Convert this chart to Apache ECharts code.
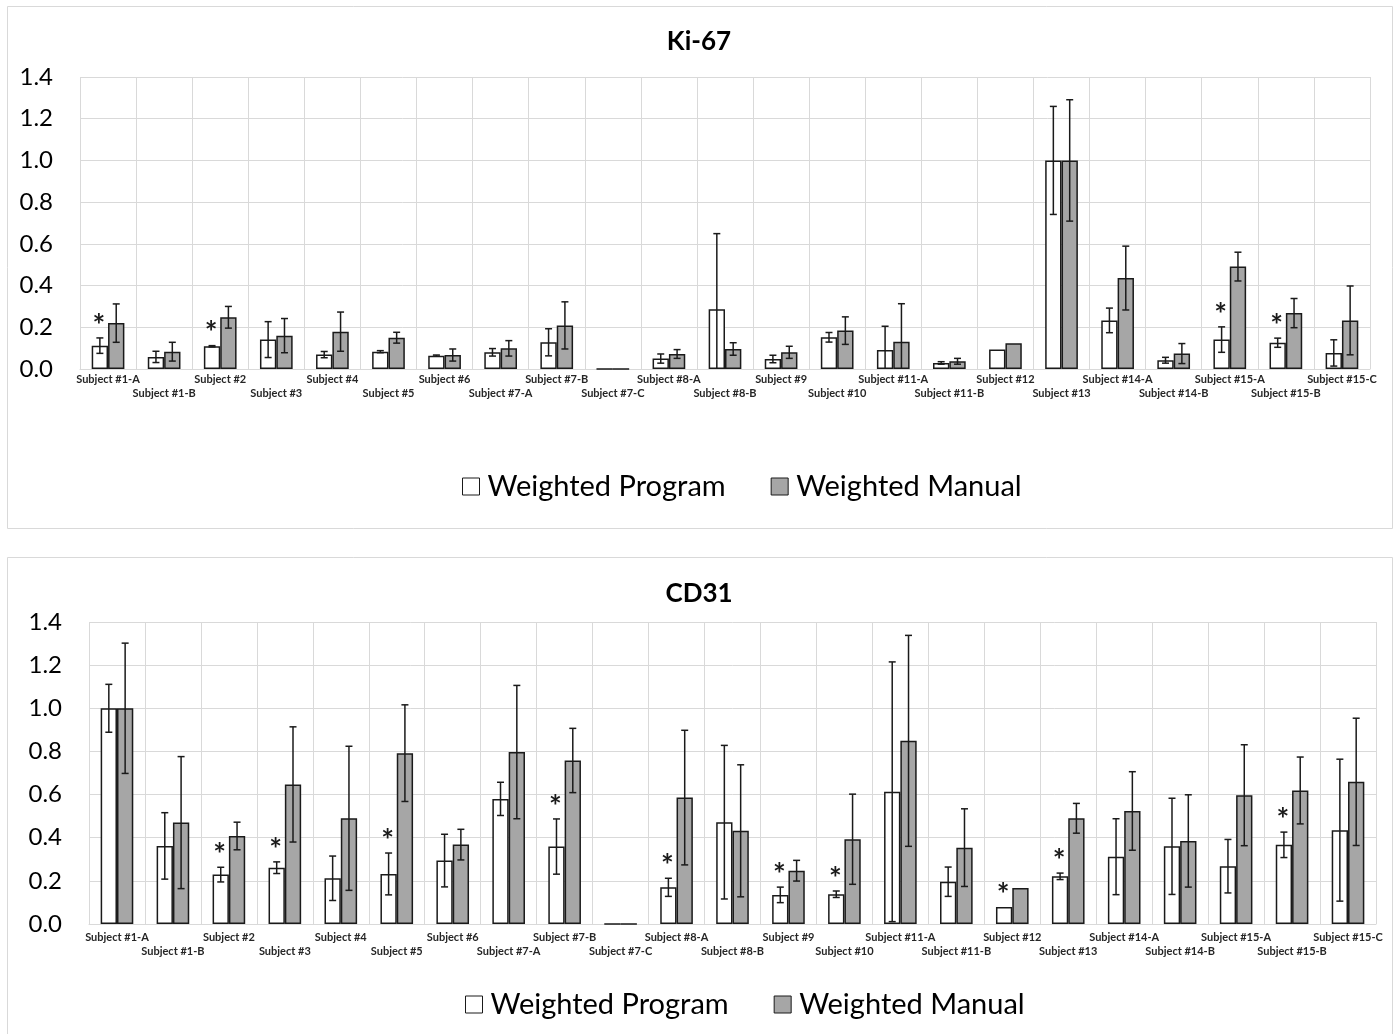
<!DOCTYPE html>
<html>
<head>
<meta charset="utf-8">
<script src="https://cdn.jsdelivr.net/npm/echarts@6/dist/echarts.min.js"></script>
<style>
  html, body { margin: 0; padding: 0; background: #ffffff; }
  #chart { width: 1398px; height: 1034px; }
</style>
</head>
<body>
<div id="chart"></div>
<script>
// ---------- DATA ----------
const categories = [
  'Subject #1-A', 'Subject #1-B', 'Subject #2', 'Subject #3', 'Subject #4', 'Subject #5',
  'Subject #6', 'Subject #7-A', 'Subject #7-B', 'Subject #7-C', 'Subject #8-A', 'Subject #8-B',
  'Subject #9', 'Subject #10', 'Subject #11-A', 'Subject #11-B', 'Subject #12', 'Subject #13',
  'Subject #14-A', 'Subject #14-B', 'Subject #15-A', 'Subject #15-B', 'Subject #15-C'
];
const seriesNames = ['Weighted Program', 'Weighted Manual'];
const yTickValues = [0, 0.2, 0.4, 0.6, 0.8, 1.0, 1.2, 1.4];

// Ki-67
const ki67Program    = [0.112, 0.058, 0.109, 0.141, 0.069, 0.083, 0.064, 0.080, 0.128, 0, 0.050, 0.286, 0.048, 0.152, 0.091, 0.029, 0.094, 1.000, 0.233, 0.042, 0.141, 0.126, 0.077];
const ki67ProgramErr = [0.037, 0.027, 0.003, 0.086, 0.015, 0.005, 0.003, 0.018, 0.065, 0, 0.022, 0.363, 0.018, 0.023, 0.114, 0.006, 0, 0.259, 0.059, 0.014, 0.061, 0.022, 0.063];
const ki67Manual     = [0.220, 0.083, 0.248, 0.160, 0.179, 0.150, 0.067, 0.099, 0.209, 0, 0.072, 0.096, 0.080, 0.184, 0.131, 0.037, 0.123, 1.000, 0.436, 0.074, 0.491, 0.268, 0.233];
const ki67ManualErr  = [0.092, 0.045, 0.052, 0.082, 0.094, 0.026, 0.029, 0.037, 0.113, 0, 0.021, 0.030, 0.029, 0.066, 0.182, 0.014, 0, 0.291, 0.153, 0.048, 0.069, 0.070, 0.165];
const ki67Significant = ['Subject #1-A', 'Subject #2', 'Subject #15-A', 'Subject #15-B'];

// CD31
const cd31Program    = [1.000, 0.362, 0.229, 0.261, 0.212, 0.232, 0.294, 0.580, 0.359, 0, 0.170, 0.472, 0.135, 0.138, 0.613, 0.196, 0.079, 0.221, 0.312, 0.360, 0.268, 0.367, 0.435];
const cd31ProgramErr = [0.111, 0.154, 0.034, 0.027, 0.103, 0.097, 0.122, 0.077, 0.128, 0, 0.042, 0.356, 0.036, 0.015, 0.602, 0.068, 0, 0.015, 0.176, 0.223, 0.124, 0.059, 0.329];
const cd31Manual     = [1.000, 0.470, 0.408, 0.647, 0.490, 0.792, 0.368, 0.797, 0.758, 0, 0.586, 0.432, 0.247, 0.393, 0.849, 0.354, 0.167, 0.490, 0.524, 0.385, 0.597, 0.619, 0.659];
const cd31ManualErr  = [0.302, 0.306, 0.064, 0.267, 0.334, 0.224, 0.071, 0.309, 0.149, 0, 0.312, 0.306, 0.048, 0.209, 0.489, 0.180, 0, 0.069, 0.182, 0.214, 0.234, 0.155, 0.295];
const cd31Significant = ['Subject #2', 'Subject #3', 'Subject #5', 'Subject #7-B', 'Subject #8-A', 'Subject #9', 'Subject #10', 'Subject #12', 'Subject #13', 'Subject #15-B'];

// ---------- STYLE ----------
const FONT = 'Lato, "Open Sans", sans-serif';
const GRID_COLOR = '#d9d9d9';
const EDGE = '#1a1a1a';
const FILLS = ['#ffffff', '#a6a6a6'];
const CAT_GAP = 0.417;

function errorSeries(gridIdx, side, values, errs) {
  return {
    type: 'custom',
    xAxisIndex: gridIdx, yAxisIndex: gridIdx,
    silent: true, z: 5,
    data: values.map((v, i) => [i, v, errs[i]]),
    renderItem: function (params, api) {
      const cat = api.value(0), val = api.value(1), err = api.value(2);
      if (!err) return;
      const band = api.size([1, 0])[0];
      const bw = band * (1 - CAT_GAP) / 2;
      const x = api.coord([cat, val])[0] + side * bw / 2;
      const yTop = api.coord([cat, val + err])[1];
      const lowVal = val - err;
      const yBot = api.coord([cat, Math.max(lowVal, 0)])[1];
      const cap = 3.5;
      const st = { stroke: EDGE, lineWidth: 1.5 };
      const children = [
        { type: 'line', shape: { x1: x, y1: yTop, x2: x, y2: yBot }, style: st },
        { type: 'line', shape: { x1: x - cap, y1: yTop, x2: x + cap, y2: yTop }, style: st }
      ];
      if (lowVal > 0) children.push({ type: 'line', shape: { x1: x - cap, y1: yBot, x2: x + cap, y2: yBot }, style: st });
      return { type: 'group', children: children };
    }
  };
}

function starSeries(gridIdx, sigList, values, errs) {
  const data = [];
  categories.forEach((c, i) => { if (sigList.indexOf(c) >= 0) data.push([i, values[i] + errs[i]]); });
  return {
    type: 'custom',
    xAxisIndex: gridIdx, yAxisIndex: gridIdx,
    silent: true, z: 6,
    data: data,
    renderItem: function (params, api) {
      const band = api.size([1, 0])[0];
      const bw = band * (1 - CAT_GAP) / 2;
      const p = api.coord([api.value(0), api.value(1)]);
      return {
        type: 'text',
        style: {
          text: '*', x: p[0] - bw / 2 - 1, y: p[1] - 12,
          font: 'bold 30px ' + FONT, fill: '#1a1a1a',
          textAlign: 'center', textVerticalAlign: 'middle'
        }
      };
    }
  };
}

function barSeries(gridIdx, k, values) {
  return {
    type: 'bar', name: seriesNames[k],
    xAxisIndex: gridIdx, yAxisIndex: gridIdx,
    data: values,
    barGap: '0%', barCategoryGap: (CAT_GAP * 100) + '%',
    itemStyle: { color: FILLS[k], borderColor: EDGE, borderWidth: 1.5 },
    emphasis: { disabled: true }
  };
}

function xAxis(gridIdx, margin) {
  return {
    type: 'category', gridIndex: gridIdx, data: categories,
    axisTick: { show: false },
    axisLine: { lineStyle: { color: GRID_COLOR, width: 1 } },
    splitLine: { show: true, interval: 0, lineStyle: { color: GRID_COLOR, width: 1 } },
    axisLabel: {
      interval: 0, margin: margin,
      fontFamily: FONT, fontSize: 11, fontWeight: 'bold', color: '#262626', lineHeight: 14,
      formatter: (v, i) => (i % 2 ? '\n' + v : v)
    }
  };
}

function yAxis(gridIdx) {
  return {
    type: 'value', gridIndex: gridIdx,
    min: yTickValues[0], max: yTickValues[yTickValues.length - 1],
    interval: yTickValues[1] - yTickValues[0],
    axisLine: { show: false }, axisTick: { show: false },
    splitLine: { lineStyle: { color: GRID_COLOR, width: 1 } },
    axisLabel: { margin: 27, fontFamily: FONT, fontSize: 24, color: '#000', formatter: v => v.toFixed(1) }
  };
}

function legend(left, top) {
  return {
    left: left, top: top, itemWidth: 17, itemHeight: 17, itemGap: 45, icon: 'rect',
    textStyle: { fontFamily: FONT, fontSize: 29, color: '#000', padding: [0, 0, 0, 3] },
    selectedMode: false,
    data: seriesNames.map((n, k) => ({ name: n, itemStyle: { color: FILLS[k], borderColor: EDGE, borderWidth: 1 } }))
  };
}

const chart = echarts.init(document.getElementById('chart'), null, { renderer: 'canvas' });
chart.setOption({
  backgroundColor: '#ffffff',
  animation: false,
  graphic: [
    { type: 'rect', shape: { x: 7.5, y: 6.5, width: 1385, height: 522 }, style: { fill: 'none', stroke: GRID_COLOR, lineWidth: 1 }, silent: true },
    { type: 'rect', shape: { x: 7.5, y: 557.5, width: 1385, height: 490 }, style: { fill: 'none', stroke: GRID_COLOR, lineWidth: 1 }, silent: true }
  ],
  title: [
    { text: 'Ki-67', left: 'center', top: 24, textStyle: { fontFamily: FONT, fontSize: 26, fontWeight: 'bold', color: '#000' } },
    { text: 'CD31', left: 'center', top: 576, textStyle: { fontFamily: FONT, fontSize: 26, fontWeight: 'bold', color: '#000' } }
  ],
  legend: [legend(457, 467), legend(460, 985)],
  grid: [
    { left: 80, top: 77, width: 1290, height: 292 },
    { left: 89, top: 622, width: 1287, height: 302 }
  ],
  xAxis: [xAxis(0, 3), xAxis(1, 6)],
  yAxis: [yAxis(0), yAxis(1)],
  series: [
    barSeries(0, 0, ki67Program),
    barSeries(0, 1, ki67Manual),
    errorSeries(0, -1, ki67Program, ki67ProgramErr),
    errorSeries(0, 1, ki67Manual, ki67ManualErr),
    starSeries(0, ki67Significant, ki67Program, ki67ProgramErr),
    barSeries(1, 0, cd31Program),
    barSeries(1, 1, cd31Manual),
    errorSeries(1, -1, cd31Program, cd31ProgramErr),
    errorSeries(1, 1, cd31Manual, cd31ManualErr),
    starSeries(1, cd31Significant, cd31Program, cd31ProgramErr)
  ]
});
</script>
</body>
</html>
